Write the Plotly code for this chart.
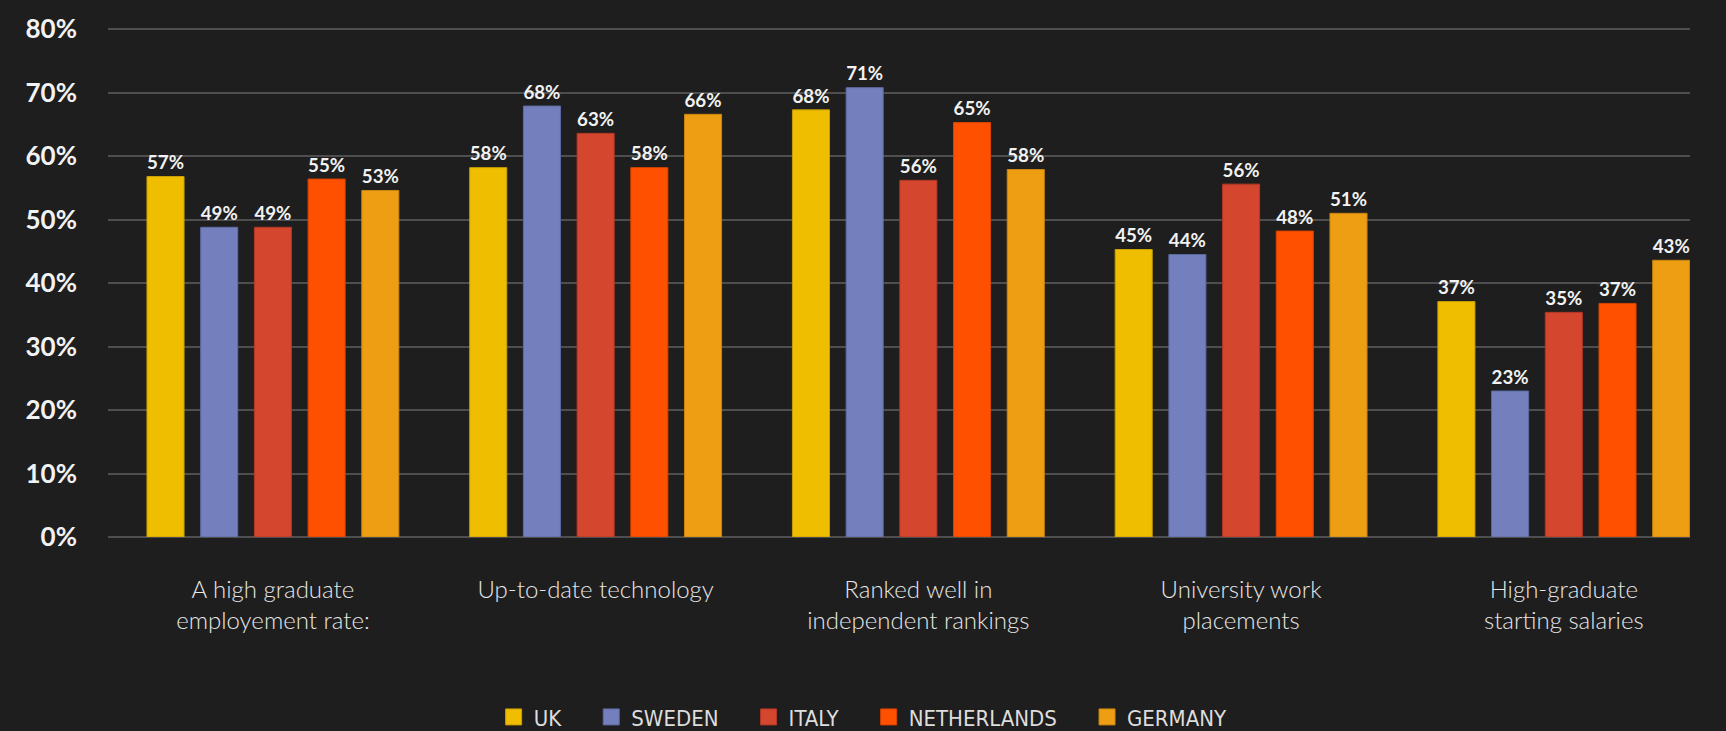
import plotly.graph_objects as go

categories = [
    "A high graduate<br>employement rate:",
    "Up-to-date technology",
    "Ranked well in<br>independent rankings",
    "University work<br>placements",
    "High-graduate<br>starting salaries",
]
countries = ["UK", "SWEDEN", "ITALY", "NETHERLANDS", "GERMANY"]

# bar heights as drawn (percent)
uk = [56.8, 58.2, 67.3, 45.3, 37.1]
sweden = [48.8, 67.9, 70.8, 44.5, 23.0]
italy = [48.8, 63.6, 56.2, 55.6, 35.4]
netherlands = [56.4, 58.2, 65.3, 48.2, 36.8]
germany = [54.6, 66.6, 57.9, 51.0, 43.6]

# printed labels
uk_labels = ["57%", "58%", "68%", "45%", "37%"]
sweden_labels = ["49%", "68%", "71%", "44%", "23%"]
italy_labels = ["49%", "63%", "56%", "56%", "35%"]
netherlands_labels = ["55%", "58%", "65%", "48%", "37%"]
germany_labels = ["53%", "66%", "58%", "51%", "43%"]

y_ticks = [0, 10, 20, 30, 40, 50, 60, 70, 80]
y_tick_labels = [f"{v}%" for v in y_ticks]

colors = ["#F0BE00", "#7380BD", "#D5462F", "#FF5000", "#EE9E12"]
edge = ["#C99E00", "#5E6AA3", "#B53824", "#D84400", "#C98510"]

series = [uk, sweden, italy, netherlands, germany]
labels = [uk_labels, sweden_labels, italy_labels, netherlands_labels, germany_labels]

FONT = "Lato"
PAD = "\u00a0" * 4
fig = go.Figure()
x_idx = list(range(len(categories)))
for name, vals, labs, col, ec in zip(countries, series, labels, colors, edge):
    fig.add_trace(go.Bar(
        x=x_idx, y=vals, name=name, text=labs,
        textposition="outside", cliponaxis=False,
        textfont=dict(family=FONT, size=22, color="#F2F2F2", weight=700),
        marker=dict(color=col, line=dict(color=ec, width=1)),
        showlegend=False,
    ))
    # legend swatch
    fig.add_trace(go.Scatter(
        x=[None], y=[None], mode="markers", name=name + PAD,
        marker=dict(symbol="square", size=22, color=col, line=dict(color=ec, width=1)),
        showlegend=True,
    ))

fig.update_layout(
    width=1726, height=731,
    margin=dict(l=108, r=36, t=28, b=194),
    paper_bgcolor="#1E1E1E", plot_bgcolor="#1E1E1E",
    barmode="group", bargap=0.168, bargroupgap=0.31,
    legend=dict(
        orientation="h", xref="container", yref="container",
        x=0.286, xanchor="left", y=0.019, yanchor="middle",
        font=dict(family="Liberation Sans Narrow, DejaVu Sans Condensed, Roboto",
                  size=22, color="#DDDDDD"),
        bgcolor="rgba(0,0,0,0)", itemclick=False, tracegroupgap=0,
        borderwidth=0,
    ),
    font=dict(family=FONT, color="#E6E6E6"),
)
fig.update_xaxes(
    range=[-0.511, 4.391],
    tickvals=x_idx, ticktext=categories,
    tickfont=dict(family=FONT, size=24, color="#E6E6E6", weight=300),
    showgrid=False, zeroline=False, showline=False, ticks="",
    ticklabelstandoff=36, automargin=False,
)
fig.update_yaxes(
    range=[0, 80.2],
    tickvals=y_ticks, ticktext=y_tick_labels,
    tickfont=dict(family=FONT, size=26, color="#F2F2F2", weight=700),
    showgrid=True, gridcolor="#4E4E4E", gridwidth=2,
    zeroline=True, zerolinecolor="#4E4E4E", zerolinewidth=2,
    showline=False, ticks="", ticklabelstandoff=30, automargin=False,
)
fig.write_html(
    "out.html",
    config={"displayModeBar": False},
    post_script="document.body.style.margin='0';document.body.style.background='#1E1E1E';",
)
